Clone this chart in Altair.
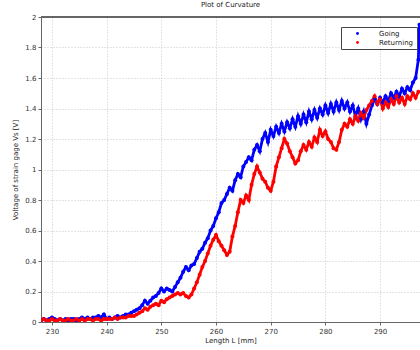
import altair as alt
import pandas as pd

going_L = [228.0, 228.5, 229.0, 229.5, 230.0, 230.5, 231.0, 231.5, 232.0, 232.5, 233.0, 233.5,
           234.0, 234.5, 235.0, 235.5, 236.0, 236.5, 237.0, 237.5, 238.0, 238.5, 239.0, 239.5,
           240.0, 240.5, 241.0, 241.5, 242.0, 242.5, 243.0, 243.5, 244.0, 244.5, 245.0, 245.5,
           246.0, 246.5, 247.0, 247.5, 248.0, 248.5, 249.0, 249.5, 250.0, 250.5, 251.0, 251.5,
           252.0, 252.5, 253.0, 253.5, 254.0, 254.5, 255.0, 255.5, 256.0, 256.5, 257.0, 257.5,
           258.0, 258.5, 259.0, 259.5, 260.0, 260.5, 261.0, 261.5, 262.0, 262.5, 263.0, 263.5,
           264.0, 264.5, 265.0, 265.5, 266.0, 266.5, 267.0, 267.5, 268.0, 268.5, 269.0, 269.5,
           270.0, 270.5, 271.0, 271.5, 272.0, 272.5, 273.0, 273.5, 274.0, 274.5, 275.0, 275.5,
           276.0, 276.5, 277.0, 277.5, 278.0, 278.5, 279.0, 279.5, 280.0, 280.5, 281.0, 281.5,
           282.0, 282.5, 283.0, 283.5, 284.0, 284.5, 285.0, 285.5, 286.0, 286.5, 287.0, 287.5,
           288.0, 288.5, 289.0, 289.5, 290.0, 290.5, 291.0, 291.5, 292.0, 292.5, 293.0, 293.5,
           294.0, 294.5, 295.0, 295.5, 296.0, 296.5, 297.0, 297.1, 297.2]
going_V = [0.01, 0.02, 0.01, 0.02, 0.03, 0.02, 0.01, 0.02, 0.01, 0.02, 0.01, 0.02,
           0.02, 0.01, 0.02, 0.03, 0.02, 0.03, 0.02, 0.03, 0.03, 0.04, 0.03, 0.05,
           0.02, 0.03, 0.02, 0.03, 0.04, 0.03, 0.04, 0.05, 0.05, 0.06, 0.07, 0.08,
           0.09, 0.11, 0.14, 0.12, 0.14, 0.16, 0.17, 0.19, 0.22, 0.20, 0.22, 0.21,
           0.20, 0.23, 0.26, 0.29, 0.33, 0.36, 0.34, 0.37, 0.38, 0.42, 0.46, 0.48,
           0.52, 0.55, 0.60, 0.63, 0.68, 0.72, 0.78, 0.80, 0.84, 0.88, 0.86, 0.93,
           0.97, 0.95, 1.02, 1.05, 1.08, 1.06, 1.13, 1.16, 1.12, 1.20, 1.24, 1.18,
           1.26, 1.22, 1.28, 1.24, 1.30, 1.25, 1.31, 1.27, 1.33, 1.28, 1.35, 1.30,
           1.36, 1.31, 1.38, 1.33, 1.39, 1.34, 1.40, 1.36, 1.42, 1.37, 1.43, 1.38,
           1.44, 1.39, 1.45, 1.40, 1.44, 1.38, 1.42, 1.35, 1.40, 1.33, 1.38, 1.30,
           1.36, 1.42, 1.46, 1.43, 1.47, 1.44, 1.48, 1.45, 1.50, 1.47, 1.51, 1.48,
           1.53, 1.50, 1.54, 1.52, 1.57, 1.60, 1.72, 1.85, 1.95]

returning_L = [228.0, 228.5, 229.0, 229.5, 230.0, 230.5, 231.0, 231.5, 232.0, 232.5, 233.0, 233.5,
               234.0, 234.5, 235.0, 235.5, 236.0, 236.5, 237.0, 237.5, 238.0, 238.5, 239.0, 239.5,
               240.0, 240.5, 241.0, 241.5, 242.0, 242.5, 243.0, 243.5, 244.0, 244.5, 245.0, 245.5,
               246.0, 246.5, 247.0, 247.5, 248.0, 248.5, 249.0, 249.5, 250.0, 250.5, 251.0, 251.5,
               252.0, 252.5, 253.0, 253.5, 254.0, 254.5, 255.0, 255.5, 256.0, 256.5, 257.0, 257.5,
               258.0, 258.5, 259.0, 259.5, 260.0, 260.5, 261.0, 261.5, 262.0, 262.5, 263.0, 263.5,
               264.0, 264.5, 265.0, 265.5, 266.0, 266.5, 267.0, 267.5, 268.0, 268.5, 269.0, 269.5,
               270.0, 270.5, 271.0, 271.5, 272.0, 272.5, 273.0, 273.5, 274.0, 274.5, 275.0, 275.5,
               276.0, 276.5, 277.0, 277.5, 278.0, 278.5, 279.0, 279.5, 280.0, 280.5, 281.0, 281.5,
               282.0, 282.5, 283.0, 283.5, 284.0, 284.5, 285.0, 285.5, 286.0, 286.5, 287.0, 287.5,
               288.0, 288.5, 289.0, 289.5, 290.0, 290.5, 291.0, 291.5, 292.0, 292.5, 293.0, 293.5,
               294.0, 294.5, 295.0, 295.5, 296.0, 296.5, 297.0]
returning_V = [0.01, 0.02, 0.01, 0.01, 0.02, 0.01, 0.01, 0.02, 0.01, 0.01, 0.02, 0.01,
               0.01, 0.02, 0.01, 0.02, 0.01, 0.02, 0.02, 0.01, 0.02, 0.02, 0.01, 0.02,
               0.02, 0.02, 0.02, 0.03, 0.02, 0.03, 0.03, 0.03, 0.04, 0.04, 0.04, 0.05,
               0.06, 0.07, 0.09, 0.08, 0.10, 0.11, 0.12, 0.11, 0.14, 0.13, 0.15, 0.16,
               0.17, 0.18, 0.19, 0.18, 0.19, 0.17, 0.16, 0.18, 0.22, 0.26, 0.31, 0.36,
               0.40, 0.45, 0.50, 0.54, 0.57, 0.53, 0.50, 0.47, 0.44, 0.46, 0.56, 0.63,
               0.72, 0.80, 0.78, 0.83, 0.80, 0.90, 0.97, 1.02, 0.98, 0.94, 0.92, 0.88,
               0.86, 0.92, 1.02, 1.08, 1.14, 1.20, 1.17, 1.12, 1.08, 1.04, 1.06, 1.12,
               1.16, 1.13, 1.18, 1.15, 1.21, 1.18, 1.26, 1.22, 1.25, 1.20, 1.18, 1.14,
               1.13, 1.18, 1.26, 1.30, 1.28, 1.33, 1.30, 1.35, 1.32, 1.37, 1.34, 1.39,
               1.42, 1.45, 1.48, 1.43, 1.46, 1.40, 1.44, 1.41, 1.46, 1.43, 1.48, 1.44,
               1.47, 1.43, 1.48, 1.46, 1.50, 1.47, 1.51]

series_names = ["Going", "Returning"]
series_colors = ["#0000ff", "#ff0000"]
x_ticks = [230, 240, 250, 260, 270, 280, 290]
y_ticks = [0, 0.2, 0.4, 0.6, 0.8, 1.0, 1.2, 1.4, 1.6, 1.8, 2.0]

df = pd.concat([
    pd.DataFrame({"L": going_L, "V": going_V, "series": "Going", "order": range(len(going_L))}),
    pd.DataFrame({"L": returning_L, "V": returning_V, "series": "Returning", "order": range(len(returning_L))}),
])

FONT = "DejaVu Sans"

x_enc = alt.X("L:Q", scale=alt.Scale(domain=[228, 297.3], nice=False, zero=False),
              axis=alt.Axis(values=x_ticks, title="Length L [mm]", format="d",
                            grid=True, gridDash=[1, 2], gridColor="#c8c8c8",
                            domainColor="#666666", tickColor="#666666", tickSize=3,
                            labelFontSize=7, titleFontSize=7, labelPadding=2, titlePadding=2,
                            labelOverlap=False, titleFontWeight="normal",
                            labelColor="#333333", titleColor="#222222", labelFont=FONT, titleFont=FONT))
y_enc = alt.Y("V:Q", scale=alt.Scale(domain=[0, 2], nice=False),
              axis=alt.Axis(values=y_ticks, title="Voltage of strain gage Vs [V]", format="~g",
                            grid=True, gridDash=[1, 2], gridColor="#c8c8c8",
                            domainColor="#666666", tickColor="#666666", tickSize=3,
                            labelFontSize=7, titleFontSize=7, labelPadding=2, titlePadding=6,
                            labelOverlap=False, titleFontWeight="normal",
                            labelColor="#333333", titleColor="#222222", labelFont=FONT, titleFont=FONT))
color_enc = alt.Color("series:N", scale=alt.Scale(domain=series_names, range=series_colors),
                      legend=alt.Legend(title=None, orient="none", legendX=300, legendY=10,
                                        strokeColor="#444444", fillColor="white", padding=3,
                                        symbolType="circle", symbolSize=8, symbolOffset=10,
                                        labelOffset=18, labelFontSize=7, labelFont=FONT,
                                        labelColor="#222222", rowPadding=1, symbolStrokeWidth=0))

base = alt.Chart(df)
lines = base.mark_line(strokeWidth=2.8, clip=True).encode(
    x=x_enc, y=y_enc, color=color_enc, detail="series:N", order="order:Q")
points = base.mark_circle(size=16, opacity=1, clip=True).encode(
    x=x_enc, y=y_enc, color=color_enc)
top_rule = alt.Chart(df).mark_rule(color="#666666", strokeWidth=1).encode(
    x=alt.value(0), x2=alt.value(379), y=alt.value(0))

chart = alt.layer(lines, points, top_rule).properties(
    width=379, height=305,
    title=alt.Title("Plot of Curvature", fontSize=7, font=FONT, fontWeight="normal",
                    color="#222222", offset=5),
    padding={"left": 41, "top": 17, "right": 0, "bottom": 28},
    autosize=alt.AutoSizeParams(type="none"),
).configure_view(stroke=None).configure(background="white")

chart.save("out.html", embed_options={"renderer": "svg", "actions": False})
